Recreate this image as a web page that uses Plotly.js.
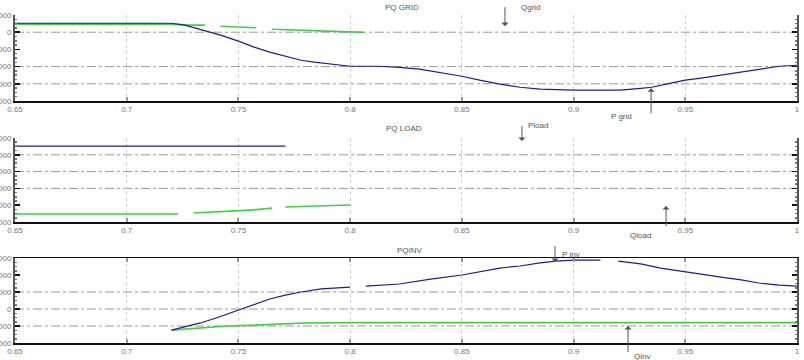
<!DOCTYPE html>
<html>
<head>
<meta charset="utf-8">
<script src="https://cdn.plot.ly/plotly-3.0.1.min.js"></script>
<style>
  html, body { margin: 0; padding: 0; background: #fff; }
  #chart { width: 804px; height: 360px; }
</style>
</head>
<body>
<div id="chart"></div>
<script>
// Time axis ticks shared by the three panels
const timeTicks = [0.65, 0.7, 0.75, 0.8, 0.85, 0.9, 0.95, 1];
const timeTickText = ['0.65', '0.7', '0.75', '0.8', '0.85', '0.9', '0.95', '1'];

// Panel 1: grid active / reactive power
const gridTicks = [1000, 0, -1000, -2000, -3000, -4000];
const gridGridLines = [0, -2000, -3000];
const pGridTime = [0.65, 0.72, 0.726, 0.733, 0.742, 0.75, 0.757, 0.764, 0.771, 0.778, 0.784, 0.791, 0.8, 0.813,
  0.822, 0.831, 0.84, 0.85, 0.858, 0.867, 0.876, 0.885, 0.9, 0.912, 0.921, 0.93, 0.935, 0.943, 0.95, 0.957,
  0.966, 0.975, 0.983, 0.992, 1.0];
const pGrid = [520, 520, 410, 170, -170, -520, -870, -1160, -1400, -1630, -1740, -1860, -1980, -1980,
  -2040, -2150, -2330, -2560, -2790, -3020, -3200, -3310, -3370, -3370, -3370, -3260, -3200, -2970, -2790, -2670,
  -2500, -2330, -2150, -1980, -1920];
const qGridTime = [0.65, 0.72, 0.728, 0.735, 0.738, 0.742, 0.75, 0.758, 0.761, 0.765, 0.775, 0.79, 0.8, 0.806];
const qGrid = [470, 470, 410, 410, null, 350, 290, 260, null, 175, 120, 60, 20, 0];

// Panel 2: load active / reactive power
const loadTicks = [-1000, -2000, -3000, -4000, -5000, -6000];
const loadGridLines = [-2000, -3000, -4000];
const pLoadTime = [0.65, 0.771];
const pLoad = [-1480, -1480];
const qLoadTime = [0.65, 0.723, 0.727, 0.73, 0.745, 0.757, 0.765, 0.768, 0.771, 0.786, 0.8];
const qLoad = [-5520, -5520, null, -5460, -5340, -5280, -5170, null, -5110, -5050, -4990];

// Panel 3: inverter active / reactive power
const invTicks = [3000, 2000, 1000, 0, -1000, -2000];
const invGridLines = [1000, 0, -1000];
const pInvTime = [0.72, 0.726, 0.733, 0.74, 0.75, 0.757, 0.764, 0.771, 0.778, 0.787, 0.8, 0.803, 0.807, 0.822,
  0.836, 0.85, 0.867, 0.876, 0.885, 0.892, 0.9, 0.912, 0.916, 0.92, 0.93, 0.939, 0.95, 0.957, 0.966, 0.975,
  0.983, 0.992, 1.0];
const pInv = [-1240, -1060, -820, -530, -60, 290, 590, 820, 1000, 1180, 1290, null, 1350, 1470,
  1760, 2000, 2410, 2530, 2710, 2820, 2880, 2880, null, 2820, 2650, 2410, 2180, 2060, 1880, 1710,
  1530, 1410, 1350];
const qInvTime = [0.72, 0.726, 0.733, 0.745, 0.755, 0.77, 0.78, 0.8, 1.0];
const qInv = [-1240, -1180, -1120, -1000, -960, -900, -820, -800, -800];

// Panel titles
const panelTitles = ['PQ GRID', 'PQ LOAD', 'PQINV'];

const BLUE = '#1d1d8f';
const GREEN = '#3fcf3f';
const FONT = 'Liberation Sans, Arial, sans-serif';

function line(x, y, color, xa, ya, w) {
  return { x: x, y: y, type: 'scatter', mode: 'lines', xaxis: xa, yaxis: ya,
    line: { color: color, width: w }, connectgaps: false, hoverinfo: 'skip', showlegend: false };
}

const traces = [
  line(qGridTime, qGrid, GREEN, 'x', 'y', 1.6),
  line(pGridTime, pGrid, BLUE, 'x', 'y', 1.2),
  line(qLoadTime, qLoad, GREEN, 'x2', 'y2', 1.6),
  line(pLoadTime, pLoad, BLUE, 'x2', 'y2', 1.2),
  line(qInvTime, qInv, GREEN, 'x3', 'y3', 1.6),
  line(pInvTime, pInv, BLUE, 'x3', 'y3', 1.2)
];

function xAxis(anchor, mirror) {
  return {
    anchor: anchor, domain: [0, 1], range: [0.65, 1],
    tickmode: 'array', tickvals: timeTicks, ticktext: timeTickText,
    tickfont: { size: 8, color: '#777', family: FONT },
    ticks: 'inside', ticklen: 4, tickwidth: 2, tickcolor: '#999',
    showline: true, linecolor: '#111', linewidth: 1.5, mirror: mirror,
    showgrid: true, gridcolor: '#cfcfcf', griddash: 'dot', gridwidth: 1,
    zeroline: false, fixedrange: true
  };
}

function yAxis(anchor, domain, ticks) {
  return {
    anchor: anchor, domain: domain, range: [ticks[ticks.length - 1], ticks[0]],
    tickmode: 'array', tickvals: ticks, ticktext: ticks.map(String),
    tickfont: { size: 8, color: '#777', family: FONT },
    ticks: 'inside', ticklen: 5, tickwidth: 1.5, tickcolor: '#111',
    minor: { ticks: 'inside', ticklen: 2, dtick: 250, tickcolor: '#777', showgrid: false },
    showline: true, linecolor: '#555', linewidth: 2, mirror: 'ticks',
    showgrid: false, zeroline: false, fixedrange: true
  };
}

// Dash-dot horizontal reference lines inside each panel
function hGrid(yref, xref, values) {
  return values.map(v => ({
    type: 'line', xref: xref + ' domain', yref: yref, x0: 0, x1: 1, y0: v, y1: v,
    layer: 'below', line: { color: '#9a9a9a', width: 1, dash: 'dashdot' }
  }));
}

const d1 = [0.7194, 0.9583];
const d2 = [0.3833, 0.6167];
const d3 = [0.0472, 0.2833];

const txtFont = { size: 8, color: '#555', family: FONT };
function label(text, x, y) {
  return { text: text, xref: 'paper', yref: 'paper', x: x, y: y, xanchor: 'center', yanchor: 'middle',
    showarrow: false, font: txtFont };
}
function pointer(xref, yref, x, y, ay) {
  return { text: ' ', xref: xref, yref: yref, x: x, y: y, ax: 0, ay: ay, showarrow: true,
    arrowhead: 1, arrowsize: 1.2, arrowwidth: 1, arrowcolor: '#555', standoff: 0, startstandoff: 0,
    font: { size: 1 } };
}

const annotations = [
  label(panelTitles[0], 0.4949, 0.978),
  label(panelTitles[1], 0.4974, 0.6417),
  label(panelTitles[2], 0.5051, 0.3028),
  label('Qgrid', 0.6598, 0.9778),
  pointer('x', 'y', 0.8693, 349, -21),
  label('P grid', 0.7762, 0.675),
  pointer('x', 'y', 0.9347, -3256, 27),
  label('Pload', 0.6688, 0.65),
  pointer('x2', 'y2', 0.8769, -1179, -17),
  label('Qload', 0.8005, 0.3472),
  pointer('x2', 'y2', 0.9414, -5048, 22),
  label('P inv', 0.711, 0.2944),
  pointer('x3', 'y3', 0.8917, 2765, -18),
  label('Qinv', 0.8018, 0.0111),
  pointer('x3', 'y3', 0.9244, -1000, 28)
];

const layout = {
  width: 804, height: 360,
  margin: { l: 15, r: 7, t: 0, b: 0, pad: 0 },
  paper_bgcolor: '#fff', plot_bgcolor: '#fff',
  font: { family: FONT, size: 8, color: '#666' },
  showlegend: false,
  xaxis: xAxis('y', false),
  xaxis2: xAxis('y2', false),
  xaxis3: xAxis('y3', 'ticks'),
  yaxis: yAxis('x', d1, gridTicks),
  yaxis2: yAxis('x2', d2, loadTicks),
  yaxis3: yAxis('x3', d3, invTicks),
  shapes: [].concat(hGrid('y', 'x', gridGridLines), hGrid('y2', 'x2', loadGridLines), hGrid('y3', 'x3', invGridLines)),
  annotations: annotations
};

Plotly.newPlot('chart', traces, layout, { staticPlot: true, displayModeBar: false });
</script>
</body>
</html>
